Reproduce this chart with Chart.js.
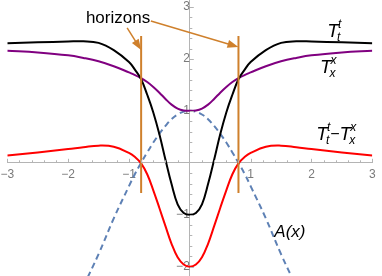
<!DOCTYPE html>
<html>
<head>
<meta charset="utf-8">
<script src="https://cdn.jsdelivr.net/npm/chart.js@4.4.0/dist/chart.umd.min.js"></script>
<style>
html, body { margin: 0; padding: 0; background: #fff; }
</style>
</head>
<body>
<canvas id="myChart" width="382" height="276"></canvas>
<script>
// values (curves are symmetric about x = 0)
var xs = [-3, -2.5, -2, -1.75, -1.5, -1.25, -1, -0.9, -0.8, -0.7, -0.6, -0.5, -0.4, -0.3, -0.2, -0.1, 0,
          0.1, 0.2, 0.3, 0.4, 0.5, 0.6, 0.7, 0.8, 0.9, 1, 1.25, 1.5, 1.75, 2, 2.5, 3];
var tttValues = [2.30, 2.32, 2.335, 2.34, 2.31, 2.17, 1.94, 1.79, 1.61, 1.31, 0.97, 0.55, 0.06, -0.41, -0.80, -0.965, -1.0,
                 -0.965, -0.80, -0.41, 0.06, 0.55, 0.97, 1.31, 1.61, 1.79, 1.94, 2.17, 2.31, 2.34, 2.335, 2.32, 2.30];
var txxValues = [2.16, 2.125, 2.07, 2.02, 1.955, 1.86, 1.74, 1.69, 1.63, 1.555, 1.46, 1.35, 1.23, 1.12, 1.045, 1.008, 1.0,
                 1.008, 1.045, 1.12, 1.23, 1.35, 1.46, 1.555, 1.63, 1.69, 1.74, 1.86, 1.955, 2.02, 2.07, 2.125, 2.16];
var diffValues = [0.14, 0.20, 0.265, 0.30, 0.33, 0.31, 0.19, 0.11, -0.01, -0.22, -0.53, -0.87, -1.22, -1.56, -1.82, -1.96, -2.0,
                  -1.96, -1.82, -1.56, -1.22, -0.87, -0.53, -0.22, -0.01, 0.11, 0.19, 0.31, 0.33, 0.30, 0.265, 0.20, 0.14];
var aXs = [-1.75, -1.5, -1.25, -1, -0.9, -0.8, -0.7, -0.6, -0.5, -0.4, -0.3, -0.2, -0.1, 0,
           0.1, 0.2, 0.3, 0.4, 0.5, 0.6, 0.7, 0.8, 0.9, 1, 1.25, 1.5, 1.75];
var aValues = [-2.38, -1.76, -1.07, -0.45, -0.21, 0.0, 0.2, 0.39, 0.56, 0.71, 0.84, 0.93, 0.985, 1.0,
               0.985, 0.93, 0.84, 0.71, 0.56, 0.39, 0.2, 0.0, -0.21, -0.45, -1.07, -1.76, -2.38];
var horizons = [-0.8, 0.8];
var horizonSpan = [-0.58, 2.44];
var xRange = [-3, 3];
var yRange = [-2.18, 3.135];

// annotations (data coordinates)
var horizonLabel = { text: 'horizons', x: -1.18, y: 2.81 };
var arrows = [[-1.03, 2.6, -0.8, 2.17], [-0.64, 2.73, 0.8, 2.23]];

var orange = '#cf802c';

function pts(xArr, yArr) {
    return xArr.map(function (x, i) { return { x: x, y: yArr[i] }; });
}

var curve = { fill: false, pointRadius: 0, borderWidth: 2, tension: 0.4 };

var datasets = [
    Object.assign({ data: pts(xs, tttValues), borderColor: '#000000', order: 2 }, curve),
    Object.assign({ data: pts(xs, txxValues), borderColor: '#800080', order: 3 }, curve),
    Object.assign({ data: pts(xs, diffValues), borderColor: '#ff0000', order: 4 }, curve),
    Object.assign({ data: pts(aXs, aValues), borderColor: '#5e81b5', borderDash: [6, 4], order: 5 }, curve)
];
horizons.forEach(function (h) {
    datasets.push({
        data: pts([h, h], horizonSpan), borderColor: orange, borderWidth: 2,
        pointRadius: 0, fill: false, order: 1
    });
});

function noPadding(scale) {
    scale.paddingLeft = 0; scale.paddingRight = 0;
    scale.paddingTop = 0; scale.paddingBottom = 0;
}

function drawT(c, x, y, sup, sub) {
    c.font = 'italic 19px "Liberation Sans"';
    c.fillText('T', x, y);
    var w = c.measureText('T').width;
    c.font = 'italic 12px "Liberation Sans"';
    c.fillText(sup, x + w - 1, y - 9);
    c.fillText(sub, x + w - 2, y + 4);
    return x + w - 1 + Math.max(c.measureText(sup).width, c.measureText(sub).width);
}

var axisTicks = {
    id: 'axisTicks',
    afterDatasetsDraw: function (chart) {
        var xs = chart.scales.x, ys = chart.scales.y, c = chart.ctx;
        var x0 = xs.getPixelForValue(0), y0 = ys.getPixelForValue(0);
        c.save();
        c.strokeStyle = '#b4b4b4';
        c.lineWidth = 1;
        c.beginPath();
        for (var i = -15; i <= 15; i++) {
            if (i === 0) continue;
            var px = Math.round(xs.getPixelForValue(i / 5)) + 0.5;
            var len = i % 5 === 0 ? 4 : 2.5;
            c.moveTo(px, y0); c.lineTo(px, y0 - len);
        }
        for (var j = -10; j <= 15; j++) {
            if (j === 0) continue;
            var py = Math.round(ys.getPixelForValue(j / 5)) + 0.5;
            var l = j % 5 === 0 ? 4 : 2.5;
            c.moveTo(x0, py); c.lineTo(x0 + l, py);
        }
        c.stroke();

        // arrows to the horizons
        c.strokeStyle = orange;
        c.fillStyle = orange;
        c.lineWidth = 1.5;
        arrows.forEach(function (a) {
            var x1 = xs.getPixelForValue(a[0]), y1 = ys.getPixelForValue(a[1]);
            var x2 = xs.getPixelForValue(a[2]), y2 = ys.getPixelForValue(a[3]);
            var ang = Math.atan2(y2 - y1, x2 - x1);
            c.beginPath();
            c.moveTo(x1, y1);
            c.lineTo(x2 - 8 * Math.cos(ang), y2 - 8 * Math.sin(ang));
            c.stroke();
            c.beginPath();
            c.moveTo(x2, y2);
            c.lineTo(x2 - 11 * Math.cos(ang) + 4 * Math.sin(ang), y2 - 11 * Math.sin(ang) - 4 * Math.cos(ang));
            c.lineTo(x2 - 11 * Math.cos(ang) - 4 * Math.sin(ang), y2 - 11 * Math.sin(ang) + 4 * Math.cos(ang));
            c.closePath();
            c.fill();
        });

        // labels
        c.fillStyle = '#000';
        c.textBaseline = 'alphabetic';
        c.textAlign = 'center';
        c.font = '17px "Liberation Sans"';
        c.fillText(horizonLabel.text, xs.getPixelForValue(horizonLabel.x), ys.getPixelForValue(horizonLabel.y) + 6);
        c.textAlign = 'left';
        drawT(c, xs.getPixelForValue(2.26), ys.getPixelForValue(2.43), 't', 't');
        drawT(c, xs.getPixelForValue(2.14), ys.getPixelForValue(1.72), 'x', 'x');
        var end = drawT(c, xs.getPixelForValue(2.08), ys.getPixelForValue(0.44), 't', 't');
        c.font = '16px "Liberation Sans"';
        c.fillText('\u2212', end, ys.getPixelForValue(0.44) - 1);
        end += c.measureText('\u2212').width;
        drawT(c, end, ys.getPixelForValue(0.44), 'x', 'x');
        c.font = 'italic 17px "Liberation Sans"';
        c.fillText('A(x)', xs.getPixelForValue(1.39), ys.getPixelForValue(-1.42));
        c.restore();
    }
};

var ctx = document.getElementById('myChart').getContext('2d');
var myChart = new Chart(ctx, {
    type: 'line',
    data: { datasets: datasets },
    options: {
        responsive: false,
        animation: false,
        layout: { padding: { left: 7.3, right: 9.7, top: 0, bottom: 0 } },
        plugins: { legend: { display: false }, tooltip: { enabled: false } },
        scales: {
            x: {
                type: 'linear',
                min: xRange[0], max: xRange[1],
                position: { y: 0 },
                afterFit: noPadding,
                grid: { drawOnChartArea: false, drawTicks: false },
                border: { color: '#b4b4b4', width: 1 },
                ticks: {
                    stepSize: 1, includeBounds: false, padding: 5, maxRotation: 0,
                    color: '#7a7a7a', font: { family: 'Liberation Sans', size: 12 },
                    callback: function (v) { return v === 0 ? '' : String(v).replace('-', '\u2212'); }
                }
            },
            y: {
                type: 'linear',
                min: yRange[0], max: yRange[1],
                position: { x: 0 },
                afterFit: noPadding,
                grid: { drawOnChartArea: false, drawTicks: false },
                border: { color: '#b4b4b4', width: 1 },
                ticks: {
                    stepSize: 1, includeBounds: false, padding: 4,
                    color: '#7a7a7a', font: { family: 'Liberation Sans', size: 12 },
                    callback: function (v) { return v === 0 ? '' : String(v).replace('-', '\u2212'); }
                }
            }
        }
    },
    plugins: [axisTicks]
});
</script>
</body>
</html>
